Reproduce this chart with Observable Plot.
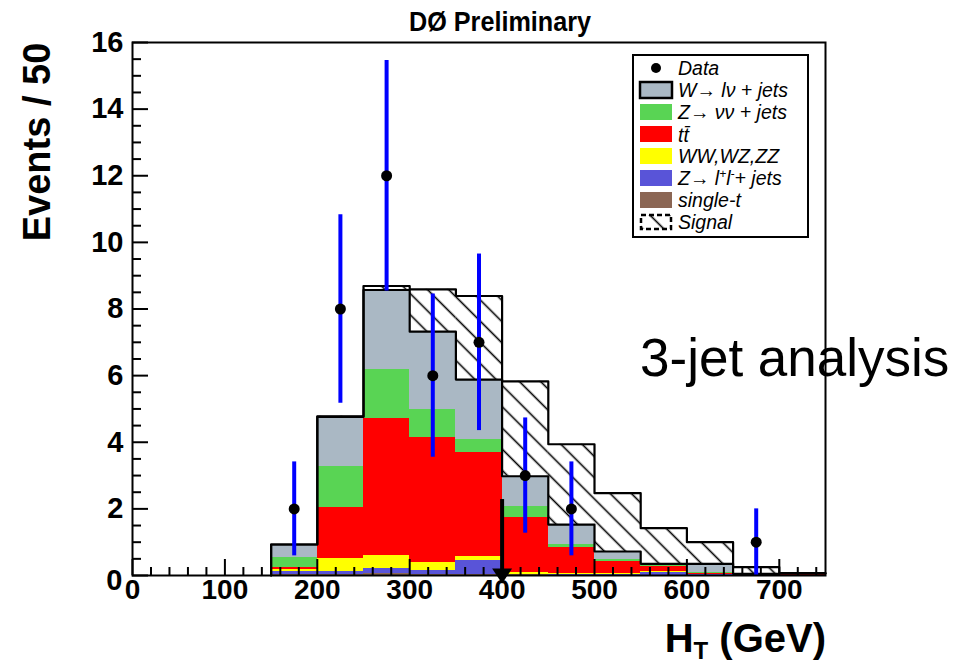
<!DOCTYPE html>
<html><head><meta charset="utf-8">
<script src="https://cdn.jsdelivr.net/npm/d3@7"></script>
<script src="https://cdn.jsdelivr.net/npm/@observablehq/plot@0.6"></script>
<style>
html,body{margin:0;padding:0;background:#fff;}
#chart{position:relative;width:972px;height:665px;overflow:hidden;}
</style></head><body><div id="chart"></div>
<script>
// ---- histogram bins (H_T, GeV) ----
const binLo = [150, 200, 250, 300, 350, 400, 450, 500, 550, 600, 650, 700];
const binWidth = 50;

// ---- background contributions per bin (events / 50 GeV), stacked bottom -> top ----
const singleT = [0.04, 0.04, 0.05, 0.04, 0.04, 0.02, 0.01, 0.01, 0.01, 0.01, 0.00, 0.00];
const zll     = [0.07, 0.08, 0.15, 0.11, 0.41, 0.02, 0.01, 0.01, 0.09, 0.01, 0.01, 0.00];
const diboson = [0.06, 0.38, 0.40, 0.23, 0.12, 0.06, 0.04, 0.03, 0.02, 0.01, 0.00, 0.01];
const ttbar   = [0.06, 1.55, 4.11, 3.76, 3.11, 1.65, 0.79, 0.36, 0.15, 0.04, 0.02, 0.03];
const znn     = [0.30, 1.23, 1.46, 0.84, 0.41, 0.33, 0.07, 0.07, 0.03, 0.02, 0.01, 0.01];
const wjets   = [0.40, 1.48, 2.40, 2.34, 1.79, 0.90, 0.61, 0.24, 0.05, 0.26, 0.01, 0.01];
const signal  = [0.00, 0.02, 0.12, 1.27, 2.51, 2.85, 2.41, 1.75, 1.07, 0.65, 0.20, 0.01];

const seriesNames  = ["single-t", "Zll", "WW", "tt", "Znn", "W"];
const seriesValues = [singleT, zll, diboson, ttbar, znn, wjets];
const seriesColors = ["#8b6654", "#5954d8", "#ffff00", "#ff0000", "#59d454", "#aab8c4"];

// ---- data points ----
const dataX   = [175, 225, 275, 325, 375, 425, 475, 675];
const dataN   = [2, 8, 12, 6, 7, 3, 2, 1];
const dataErr = [1.41, 2.83, 3.46, 2.45, 2.65, 1.73, 1.41, 1.00];

// ---- cut arrow ----
const cutValue = 400;
const arrowTop = 2.28;

// ---- axis ticks ----
const xTickLabels = [0, 100, 200, 300, 400, 500, 600, 700];
const yTickLabels = [2, 4, 6, 8, 10, 12, 14, 16];
const xMinor = d3.range(0, 750, 20).filter(v => v % 100 !== 0);
const yMinor = d3.range(0, 16, 0.5).filter(v => v % 2 !== 0);

// ---- legend ----
const legendLabels = ["Data", "W", "Znn", "tt", "WW", "Zll", "single-t", "Signal"];

// build stacked rectangles
const rects = [];
const base = binLo.map(() => 0);
seriesNames.forEach((name, s) => {
  binLo.forEach((lo, i) => {
    const v = seriesValues[s][i];
    rects.push({series: name, x1: lo, x2: lo + binWidth, y1: base[i], y2: base[i] + v});
    base[i] += v;
  });
});
const wTop = base.slice();
const sigRects = binLo.map((lo, i) => ({x1: lo, x2: lo + binWidth, y1: wTop[i], y2: wTop[i] + signal[i]}));
function stepLine(tops) {
  const pts = [{x: binLo[0], y: 0}];
  binLo.forEach((lo, i) => pts.push({x: lo, y: tops[i]}));
  pts.push({x: binLo[binLo.length - 1] + binWidth, y: tops[tops.length - 1]});
  return pts;
}
const wLine = stepLine(wTop);
const sigLine = stepLine(wTop.map((t, i) => t + signal[i]));
const dataTable = dataX.map((x, i) => ({x, n: dataN[i], lo: dataN[i] - dataErr[i], hi: dataN[i] + dataErr[i]}));

const downTriangle = {draw(ctx) { ctx.moveTo(-10, -7); ctx.lineTo(10, -7); ctx.lineTo(0, 8); ctx.closePath(); }};

const W = 972, H = 665, mL = 132, mR = 147, mT = 42, mB = 90;
const innerW = W - mL - mR, innerH = H - mT - mB;
const font = "'Liberation Sans', Arial, Helvetica, sans-serif";

const svg = Plot.plot({
  width: W, height: H,
  marginLeft: mL, marginRight: mR, marginTop: mT, marginBottom: mB,
  style: {fontFamily: font, background: "white", overflow: "visible", color: "black"},
  x: {domain: [0, 750], axis: null},
  y: {domain: [0, 16], axis: null},
  color: {domain: seriesNames, range: seriesColors},
  marks: [
    Plot.rect(rects, {x1: "x1", x2: "x2", y1: "y1", y2: "y2", fill: "series", shapeRendering: "crispEdges"}),
    Plot.rect(sigRects, {x1: "x1", x2: "x2", y1: "y1", y2: "y2", fill: "url(#hatch)"}),
    Plot.line(wLine, {x: "x", y: "y", curve: "step-after", stroke: "black", strokeWidth: 2.2}),
    Plot.line(sigLine, {x: "x", y: "y", curve: "step-after", stroke: "black", strokeWidth: 2.2}),
    Plot.ruleX(xTickLabels, {x: d => d, insetTop: innerH - 16, stroke: "black", strokeWidth: 2}),
    Plot.ruleX(xMinor, {x: d => d, insetTop: innerH - 8, stroke: "black", strokeWidth: 2}),
    Plot.ruleY([0, ...yTickLabels], {y: d => d, insetRight: innerW - 16, stroke: "black", strokeWidth: 2}),
    Plot.ruleY(yMinor, {y: d => d, insetRight: innerW - 9, stroke: "black", strokeWidth: 2}),
    Plot.ruleX(dataTable, {x: "x", y1: "lo", y2: "hi", stroke: "#0000ff", strokeWidth: 4}),
    Plot.dot(dataTable, {x: "x", y: "n", r: 5.5, fill: "black", stroke: "none"}),
    Plot.ruleX([cutValue], {x: d => d, y1: arrowTop, y2: 0, stroke: "black", strokeWidth: 4}),
    Plot.dot([cutValue], {x: d => d, y: 0, symbol: downTriangle, fill: "black", stroke: "none"}),
    Plot.frame({stroke: "black", strokeWidth: 2}),
    Plot.text(yTickLabels, {y: d => d, frameAnchor: "left", text: d => String(d), textAnchor: "end", dx: -9, fontSize: 29, fontWeight: "bold", fill: "black"}),
    Plot.text([0], {y: d => d, frameAnchor: "left", text: d => String(d), textAnchor: "end", dx: -10, dy: 5, fontSize: 29, fontWeight: "bold", fill: "black"}),
    Plot.text(xTickLabels, {x: d => d, frameAnchor: "bottom", text: d => String(d), dy: 23, fontSize: 28, fontWeight: "bold", fill: "black"})
  ]
});

const s = d3.select(svg);
const defs = s.insert("defs", ":first-child");
defs.append("pattern").attr("id", "hatch").attr("patternUnits", "userSpaceOnUse")
  .attr("width", 15).attr("height", 15).attr("patternTransform", "rotate(-45)")
  .append("line").attr("x1", 7.5).attr("y1", -1).attr("x2", 7.5).attr("y2", 16)
  .attr("stroke", "black").attr("stroke-width", 1.6);

// titles
s.append("text").attr("transform", "translate(500,31) scale(0.9,1)").attr("text-anchor", "middle")
  .attr("font-family", font).attr("font-weight", "bold").attr("font-size", 28).text("DØ Preliminary");
s.append("text").attr("transform", "translate(50,142) rotate(-90)").attr("text-anchor", "middle")
  .attr("font-family", font).attr("font-weight", "bold").attr("font-size", 38).text("Events / 50");
const xt = s.append("text").attr("x", 826).attr("y", 652).attr("text-anchor", "end")
  .attr("font-family", font).attr("font-weight", "bold").attr("font-size", 40);
xt.append("tspan").text("H");
xt.append("tspan").attr("font-size", 24).attr("dy", 7).text("T");
xt.append("tspan").attr("dy", -7).text(" (GeV)");
s.append("text").attr("x", 640).attr("y", 376).attr("text-anchor", "start")
  .attr("font-family", font).attr("font-size", 53).text("3-jet analysis");

// legend
const lg = s.append("g").attr("font-family", font).attr("font-style", "italic").attr("font-size", 19.5)
  .attr("text-anchor", "start");
lg.append("rect").attr("x", 633).attr("y", 55).attr("width", 175).attr("height", 182)
  .attr("fill", "white").attr("stroke", "black").attr("stroke-width", 2);
const rowY = legendLabels.map((d, i) => 68 + 22 * i);
const colorOf = Object.fromEntries(seriesNames.map((n, i) => [n, seriesColors[i]]));
legendLabels.forEach((key, i) => {
  const cy = rowY[i];
  if (key === "Data") {
    lg.append("circle").attr("cx", 656).attr("cy", cy).attr("r", 5).attr("fill", "black");
  } else if (key === "Signal") {
    lg.append("rect").attr("x", 641).attr("y", cy - 7).attr("width", 30).attr("height", 14)
      .attr("fill", "url(#hatch)").attr("stroke", "black").attr("stroke-width", 2.5).attr("stroke-dasharray", "5,3");
  } else {
    lg.append("rect").attr("x", 640).attr("y", cy - 8).attr("width", 32).attr("height", 16)
      .attr("fill", colorOf[key]).attr("stroke", key === "W" ? "black" : "none").attr("stroke-width", 2.5);
  }
});
const tx = 678;
function ltext(i, dy = 6.5) { return lg.append("text").attr("x", tx).attr("y", rowY[i] + dy).attr("text-anchor", "start"); }
ltext(0).text("Data");
ltext(1).text("W\u2192 l\u03bd + jets");
ltext(2).text("Z\u2192 \u03bd\u03bd + jets");
ltext(3, 8).text("tt\u0304");
ltext(4).text("WW,WZ,ZZ");
{
  const t = ltext(5);
  t.append("tspan").text("Z\u2192 l");
  t.append("tspan").attr("font-size", 12).attr("dy", -7).text("+");
  t.append("tspan").attr("dy", 7).text("l");
  t.append("tspan").attr("font-size", 12).attr("dy", -7).text("-");
  t.append("tspan").attr("dy", 7).text("+ jets");
}
ltext(6).text("single-t");
ltext(7).text("Signal");

document.getElementById("chart").appendChild(svg);
</script></body></html>
